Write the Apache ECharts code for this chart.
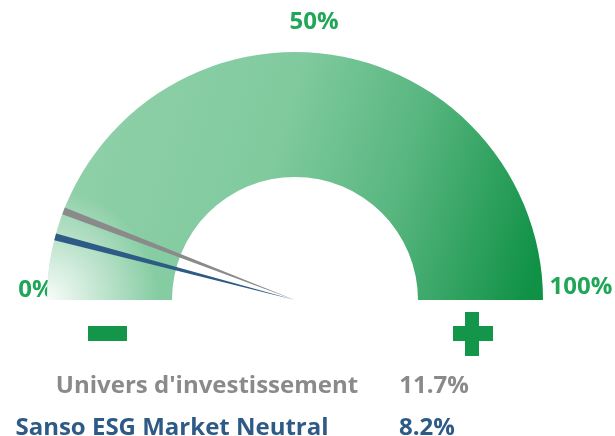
<!DOCTYPE html>
<html>
<head>
    <meta charset="utf-8">
    <style>
        html, body { margin: 0; padding: 0; background: #fff; }
        #chart { width: 615px; height: 436px; }
    </style>
</head>
<body>
    <div id="chart"></div>
    <script src="https://cdn.jsdelivr.net/npm/echarts@6/dist/echarts.min.js"></script>
    <script>
        // data
        var names = ["Univers d'investissement", 'Sanso ESG Market Neutral'];
        var values = [11.7, 8.2];
        var tickLabels = ['0%', '50%', '100%'];

        var cx = 295, cy = 300, R = 248;
        var green = '#1fa656';
        var pointerColors = ['#8a8a8a', '#2e5b86'];
        var titleColors = ['#8a8a8a', '#2e5b86'];
        var titlePos = [[-88, 86], [-123, 128]];
        var detailPos = [[139, 86], [132, 128]];

        var gaugeBase = {
            type: 'gauge',
            center: [cx, cy],
            radius: R,
            startAngle: 180,
            endAngle: 0,
            min: 0,
            max: 100,
            splitLine: { show: false },
            axisTick: { show: false },
            axisLabel: { show: false },
            anchor: { show: false },
            title: { show: false },
            detail: { show: false },
            pointer: { show: false }
        };

        // green band, darker to the bottom right
        var mainGrad = new echarts.graphic.LinearGradient(0, 0.2, 1, 0.8, [
            { offset: 0, color: '#92d1ab' },
            { offset: 0.45, color: '#80ca9e' },
            { offset: 0.7, color: '#58b67f' },
            { offset: 1, color: '#0f9146' }
        ]);
        // white glow at the 0% end
        var glow = new echarts.graphic.RadialGradient(0, 1, 0.45, [
            { offset: 0, color: 'rgba(255,255,255,0.95)' },
            { offset: 0.45, color: 'rgba(255,255,255,0.5)' },
            { offset: 1, color: 'rgba(255,255,255,0)' }
        ]);

        var data = names.map(function (n, i) {
            return {
                name: n,
                value: values[i],
                itemStyle: { color: pointerColors[i] },
                title: { offsetCenter: titlePos[i], color: titleColors[i] },
                detail: { offsetCenter: detailPos[i], color: titleColors[i] }
            };
        });

        var labelPos = [[36, 290], [314, 22], [581, 287]];

        var chart = echarts.init(document.getElementById('chart'));
        chart.setOption({
            animation: false,
            series: [
                Object.assign({}, gaugeBase, {
                    z: 1,
                    axisLine: { lineStyle: { width: 125, color: [[1, mainGrad]] } },
                    data: []
                }),
                Object.assign({}, gaugeBase, {
                    z: 2,
                    axisLine: { lineStyle: { width: 125, color: [[1, glow]] } },
                    data: []
                }),
                Object.assign({}, gaugeBase, {
                    z: 3,
                    axisLine: { show: false },
                    pointer: {
                        show: true,
                        icon: 'path://M0 0L10 0L5 100Z',
                        length: '100%',
                        width: 7
                    },
                    title: {
                        show: true,
                        fontSize: 24,
                        fontWeight: 'bold',
                        fontFamily: 'Open Sans'
                    },
                    detail: {
                        show: true,
                        fontSize: 24,
                        fontWeight: 'bold',
                        fontFamily: 'Open Sans',
                        formatter: '{value}%'
                    },
                    data: data
                })
            ],
            graphic: tickLabels.map(function (t, i) {
                return {
                    type: 'text',
                    x: labelPos[i][0],
                    y: labelPos[i][1],
                    style: {
                        text: t,
                        fill: green,
                        font: 'bold 24px "Open Sans"',
                        textAlign: 'center',
                        textVerticalAlign: 'middle'
                    }
                };
            }).concat([
                { type: 'rect', shape: { x: 88, y: 326, width: 39, height: 15 }, style: { fill: '#14964a' } },
                { type: 'rect', shape: { x: 453, y: 326, width: 40, height: 15 }, style: { fill: '#14964a' } },
                { type: 'rect', shape: { x: 465, y: 312, width: 14, height: 44 }, style: { fill: '#14964a' } }
            ])
        });
    </script>
</body>
</html>
